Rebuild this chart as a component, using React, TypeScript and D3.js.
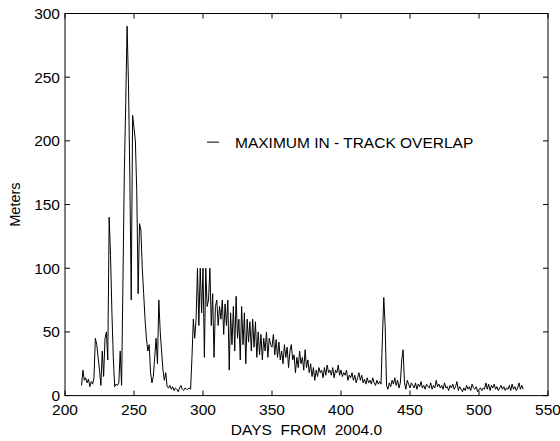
import React from "react";
import * as d3 from "d3";

const START_DAY = 212;
const overlapValues: number[] = [
  // 212-231
  8, 20, 12, 14, 10, 13, 7, 11, 9, 14, 45, 40, 30, 20, 8, 35, 15, 45, 50, 28,
  // 231-250
  140, 110, 65, 30, 7, 9, 8, 10, 35, 8, 90, 175, 230, 290, 245, 170, 75, 220, 210, 200,
  // 251-270
  160, 80, 135, 130, 100, 80, 60, 45, 35, 40, 18, 10, 15, 30, 45, 25, 75, 50, 35, 20,
  // 271-290
  12, 18, 7, 6, 8, 5, 7, 4, 6, 5, 3, 6, 8, 5, 4, 6, 5, 5, 6, 5,
  // 291-310
  30, 60, 45, 60, 100, 55, 100, 65, 100, 30, 100, 70, 75, 100, 55, 80, 30, 70, 75, 55,
  // 311-330
  70, 60, 75, 48, 72, 55, 75, 20, 65, 40, 70, 35, 78, 45, 60, 28, 70, 40, 65, 25,
  // 331-350
  60, 42, 58, 35, 60, 38, 58, 30, 50, 32, 48, 28, 45, 35, 50, 30, 45, 40, 38, 48,
  // 351-370
  32, 44, 30, 42, 28, 35, 25, 40, 30, 38, 22, 35, 40, 28, 32, 18, 30, 22, 35, 25,
  // 371-390
  30, 20, 36, 22, 28, 18, 25, 15, 22, 12, 20, 15, 22, 18, 20, 14, 22, 16, 24, 18,
  // 391-410
  20, 16, 22, 14, 20, 18, 24, 16, 20, 15, 18, 16, 20, 12, 16, 14, 18, 12, 16, 10,
  // 411-430
  14, 18, 12, 16, 10, 13, 9, 14, 10, 12, 9, 14, 10, 8, 12, 9, 11, 9, 45, 77,
  // 431-450
  55, 8, 5, 10, 7, 12, 9, 14, 8, 12, 6, 10, 28, 36, 10, 5, 12, 9, 6, 10,
  // 451-470
  8, 6, 10, 5, 9, 7, 11, 6, 8, 5, 9, 7, 6, 10, 5, 8, 6, 12, 7, 9,
  // 471-490
  6, 8, 5, 10, 6, 7, 4, 8, 6, 9, 5, 7, 11, 4, 7, 5, 3, 6, 4, 8,
  // 491-510
  5, 7, 4, 9, 6, 5, 7, 3, 5, 6, 4, 6, 5, 10, 5, 9, 4, 8, 6, 9,
  // 511-531
  5, 7, 4, 6, 8, 5, 7, 4, 6, 5, 8, 4, 9, 5, 7, 4, 6, 10, 5, 8, 5,
];

const xTicks = [200, 250, 300, 350, 400, 450, 500, 550];
const yTicks = [0, 50, 100, 150, 200, 250, 300];
const xLabel = "DAYS  FROM  2004.0";
const yLabel = "Meters";
const legendLabel = "MAXIMUM IN - TRACK OVERLAP";

const W = 560;
const H = 441;
const L = 65;
const R = 548;
const T = 13.5;
const B = 395.6;
const FONT = "'Liberation Sans', Arial, sans-serif";
const FS = 15.5;
const TICK = 5;

export default function App() {
  const x = d3.scaleLinear().domain([200, 550]).range([L, R]);
  const y = d3.scaleLinear().domain([0, 300]).range([B, T]);
  const pts: [number, number][] = overlapValues.map((v, i) => [START_DAY + i, v]);
  const line = d3
    .line<[number, number]>()
    .x((d) => x(d[0]))
    .y((d) => y(d[1]));

  return (
    <svg
      width={W}
      height={H}
      viewBox={`0 0 ${W} ${H}`}
      style={{ position: "absolute", left: 0, top: 0, background: "#fff" }}
      fontFamily={FONT}
    >
      <rect x={0} y={0} width={W} height={H} fill="#fff" />
      <path d={line(pts) || ""} fill="none" stroke="#000" strokeWidth={1} strokeLinejoin="miter" />
      <rect x={L} y={T} width={R - L} height={B - T} fill="none" stroke="#000" strokeWidth={1} />
      {xTicks.map((t) => (
        <g key={"x" + t}>
          <line x1={x(t)} x2={x(t)} y1={B} y2={B - TICK} stroke="#000" />
          <line x1={x(t)} x2={x(t)} y1={T} y2={T + TICK} stroke="#000" />
          <text x={x(t)} y={415} textAnchor="middle" fontSize={FS} fill="#000">
            {t}
          </text>
        </g>
      ))}
      {yTicks.map((t) => (
        <g key={"y" + t}>
          <line x1={L} x2={L + TICK} y1={y(t)} y2={y(t)} stroke="#000" />
          <line x1={R} x2={R - TICK} y1={y(t)} y2={y(t)} stroke="#000" />
          <text x={60} y={y(t) + 5.5} textAnchor="end" fontSize={FS} fill="#000">
            {t}
          </text>
        </g>
      ))}
      <text
        x={(L + R) / 2}
        y={435}
        textAnchor="middle"
        fontSize={FS}
        fill="#000"
        style={{ whiteSpace: "pre" }}
      >
        {xLabel}
      </text>
      <text
        transform={`translate(20, ${(T + B) / 2}) rotate(-90)`}
        textAnchor="middle"
        fontSize={FS - 1}
        fill="#000"
      >
        {yLabel}
      </text>
      <line x1={207} x2={219} y1={y(199)} y2={y(199)} stroke="#000" strokeWidth={1} />
      <text x={235} y={y(199) + 5.5} fontSize={FS} fill="#000">
        {legendLabel}
      </text>
    </svg>
  );
}
